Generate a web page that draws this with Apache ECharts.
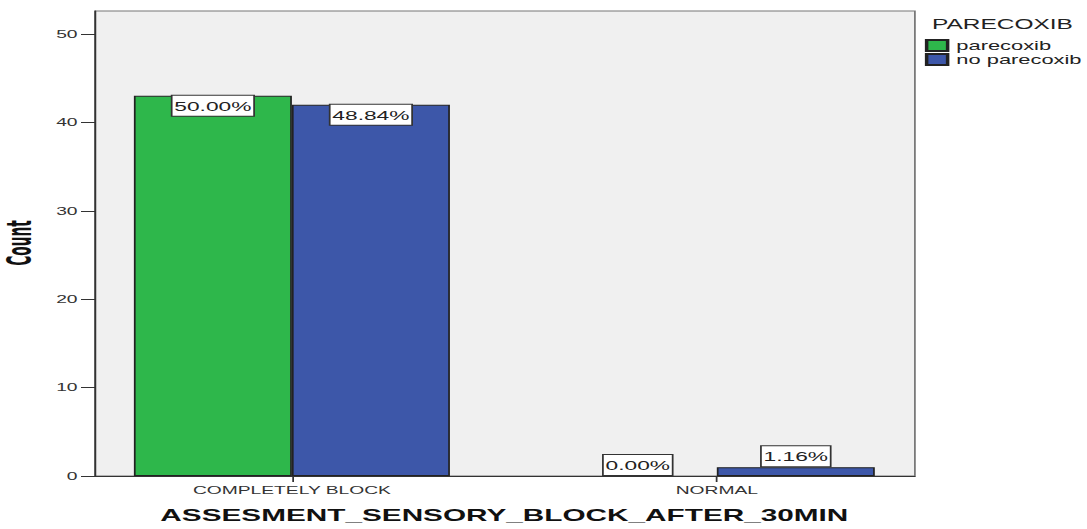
<!DOCTYPE html>
<html>
<head>
<meta charset="utf-8">
<script src="https://cdn.jsdelivr.net/npm/echarts@6/dist/echarts.min.js"></script>
<style>
html,body{margin:0;padding:0;background:#fff;overflow:hidden;width:1087px;height:529px;}
#c{width:621.14px;height:529px;transform:scaleX(1.75);transform-origin:0 0;}
</style>
</head>
<body>
<div id="c"></div>
<script>
// ---- data ----
var categories = ['COMPLETELY BLOCK', 'NORMAL'];
var seriesNames = ['parecoxib', 'no parecoxib'];
var parecoxibCounts = [43, 0];
var noParecoxibCounts = [42, 1];
var parecoxibPct = ['50.00%', '0.00%'];
var noParecoxibPct = ['48.84%', '1.16%'];
var yTicks = [0, 10, 20, 30, 40, 50];
var yMax = 52.6;

var FONT = "'Liberation Sans', Arial, sans-serif";
var GREEN = '#2eb74b';
var BLUE = '#3d57a9';

function mkData(vals, pcts) {
  return vals.map(function (v, i) {
    var d = {
      value: v,
      label: {
        position: v > 5 ? 'insideTop' : 'top',
        distance: v > 5 ? 0 : 1,
        formatter: pcts[i]
      }
    };
    if (v === 0) d.itemStyle = { borderWidth: 0, color: 'rgba(0,0,0,0)' };
    return d;
  });
}

var labelStyle = {
  show: true,
  backgroundColor: '#fff',
  borderColor: '#333',
  borderWidth: 1,
  padding: [3, 1, 2, 1],
  lineHeight: 15,
  fontSize: 13,
  color: '#222',
  fontFamily: FONT
};

var chart = echarts.init(document.getElementById('c'), null, { renderer: 'svg' });
chart.setOption({
  animation: false,
  textStyle: { fontFamily: FONT },
  title: {
    text: 'PARECOXIB',
    left: 532.5,
    top: 17,
    padding: 0,
    textStyle: { fontSize: 14, fontWeight: 'normal', color: '#222', fontFamily: FONT }
  },
  legend: {
    data: seriesNames,
    orient: 'vertical',
    left: 528.5,
    top: 39,
    padding: 0,
    itemWidth: 12,
    itemHeight: 11,
    itemGap: 1,
    icon: 'rect',
    textStyle: { fontSize: 12.5, color: '#222', fontFamily: FONT }
  },
  graphic: [{
    type: 'text',
    x: 10.9,
    y: 243,
    rotation: Math.PI / 2,
    scaleX: 0.8,
    style: {
      text: 'Count',
      fontSize: 19,
      fontWeight: 'bold',
      fontFamily: "'Liberation Sans Narrow', 'DejaVu Sans Condensed', sans-serif",
      fill: '#111',
      align: 'center',
      verticalAlign: 'middle'
    }
  }],
  grid: [
    { left: 54.3, right: 98.2, top: 11, bottom: 53, show: true, backgroundColor: '#f0f0f0', borderColor: '#777', borderWidth: 1 },
    { left: 45.4, right: 90.0, top: 11, bottom: 53 }
  ],
  xAxis: [
    {
      gridIndex: 0, type: 'category', data: categories,
      axisLine: { show: true, lineStyle: { color: '#333', width: 1 } },
      axisTick: { show: false }, axisLabel: { show: false }
    },
    {
      gridIndex: 1, type: 'category', data: categories,
      axisLine: { show: false },
      axisTick: { show: true, alignWithLabel: true, length: 6, lineStyle: { color: '#333' } },
      axisLabel: { fontSize: 11, color: '#333', margin: 9, fontFamily: FONT },
      name: 'ASSESMENT_SENSORY_BLOCK_AFTER_30MIN',
      nameLocation: 'middle',
      nameGap: 31,
      nameTextStyle: { fontSize: 17, fontWeight: 'bold', color: '#111', fontFamily: FONT }
    }
  ],
  yAxis: [
    {
      gridIndex: 0, type: 'value', min: 0, max: yMax,
      axisLine: { show: true, lineStyle: { color: '#333', width: 1 } },
      axisTick: { show: true, length: 8, customValues: yTicks, lineStyle: { color: '#333' } },
      axisLabel: { fontSize: 11, color: '#333', margin: 10, customValues: yTicks, fontFamily: FONT },
      splitLine: { show: false }
    },
    {
      gridIndex: 1, type: 'value', min: 0, max: yMax, show: false, splitLine: { show: false }
    }
  ],
  series: [
    {
      name: seriesNames[0], type: 'bar', xAxisIndex: 1, yAxisIndex: 1,
      barWidth: 90.3, barGap: '0%',
      itemStyle: { color: GREEN, borderColor: '#222', borderWidth: 1 },
      label: labelStyle,
      data: mkData(parecoxibCounts, parecoxibPct)
    },
    {
      name: seriesNames[1], type: 'bar', xAxisIndex: 1, yAxisIndex: 1,
      barWidth: 90.3, barGap: '0%',
      itemStyle: { color: BLUE, borderColor: '#222', borderWidth: 1 },
      label: labelStyle,
      data: mkData(noParecoxibCounts, noParecoxibPct)
    }
  ]
});
</script>
</body>
</html>
